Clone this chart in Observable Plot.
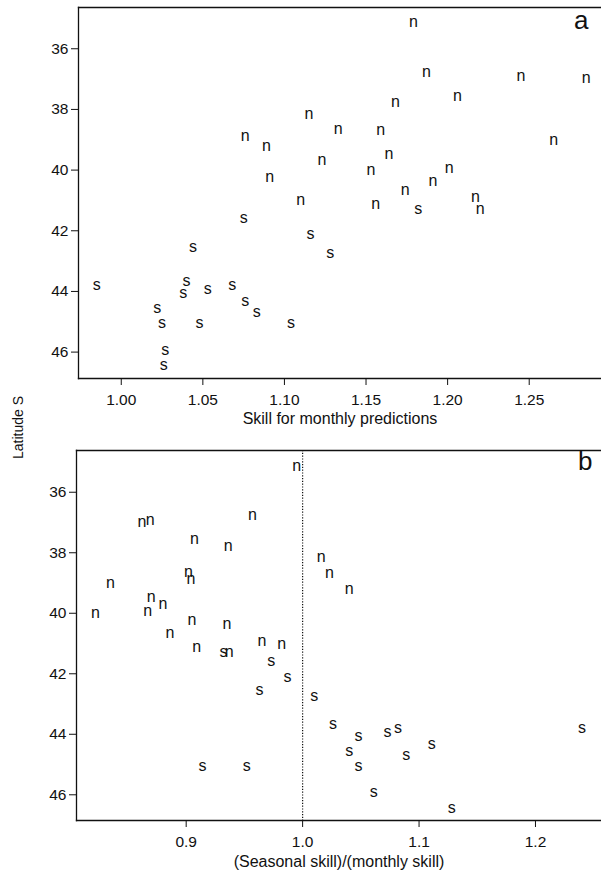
<!DOCTYPE html>
<html>
<head>
<meta charset="utf-8">
<script src="https://cdn.jsdelivr.net/npm/d3@7"></script>
<script src="https://cdn.jsdelivr.net/npm/@observablehq/plot@0.6"></script>
<style>
  body { margin: 0; background: #fff; }
  #chart { position: relative; width: 601px; height: 870px; }
  #chart svg { display: block; }
</style>
</head>
<body>
<div id="chart"></div>
<script>
// Stations: region (n = north, s = south), latitude (°S),
// skill of monthly predictions, and seasonal skill divided by monthly skill.
const region = [
  "n","n","n","n","n","n","n","n","n","n","n","n","n","n","n","n","n","n","n","n","n","n","n",
  "s","s","s","s","s","s","s","s","s","s","s","s","s","s","s","s","s","s"
];
const latitude = [
  35.15, 36.79, 36.93, 37.00, 37.58, 37.80, 38.18, 38.66, 38.70, 38.89, 39.04, 39.24,
  39.50, 39.71, 39.96, 40.03, 40.26, 40.40, 40.69, 40.93, 41.03, 41.15, 41.30,
  41.30, 41.60, 42.12, 42.58, 42.77, 43.68, 43.82, 43.82, 43.95, 44.08, 44.35,
  44.58, 44.71, 45.08, 45.08, 45.07, 45.95, 46.46
];
const monthlySkill = [
  1.179, 1.187, 1.245, 1.285, 1.206, 1.168, 1.115, 1.133, 1.159, 1.076, 1.265, 1.089,
  1.164, 1.123, 1.201, 1.153, 1.091, 1.191, 1.174, 1.217, 1.110, 1.156, 1.220,
  1.182, 1.075, 1.116, 1.044, 1.128, 1.040, 0.985, 1.068, 1.053, 1.038, 1.076,
  1.022, 1.083, 1.025, 1.048, 1.104, 1.027, 1.026
];
const skillRatio = [
  0.995, 0.957, 0.869, 0.862, 0.907, 0.936, 1.016, 0.902, 1.023, 0.904, 0.835, 1.040,
  0.870, 0.880, 0.867, 0.822, 0.905, 0.935, 0.886, 0.965, 0.982, 0.909, 0.937,
  0.932, 0.973, 0.987, 0.963, 1.010, 1.026, 1.240, 1.082, 1.073, 1.048, 1.111,
  1.040, 1.089, 1.048, 0.952, 0.914, 1.061, 1.128
];

// Axis ticks
const latTicks = [36, 38, 40, 42, 44, 46];
const skillTicks = [1.00, 1.05, 1.10, 1.15, 1.20, 1.25];
const ratioTicks = [0.9, 1.0, 1.1, 1.2];
const parity = [1]; // ratio at which seasonal and monthly skill are equal

const stations = region.map((r, i) => ({
  region: r, lat: latitude[i], skill: monthlySkill[i], ratio: skillRatio[i]
}));

const font = '"Liberation Sans", Arial, Helvetica, sans-serif';
const ink = "#111";

function panel(o) {
  return Plot.plot({
    width: 601,
    height: o.height,
    marginTop: o.marginTop,
    marginBottom: o.marginBottom,
    marginLeft: o.marginLeft,
    marginRight: 0,
    style: { fontFamily: font, fontSize: "15px", color: ink, background: "white" },
    x: { domain: o.xDomain },
    y: { domain: o.yDomain, reverse: true },
    marks: [
      Plot.frame({ anchor: "top", stroke: ink, strokeWidth: 1.3 }),
      Plot.frame({ anchor: "bottom", stroke: ink, strokeWidth: 1.3 }),
      Plot.frame({ anchor: "left", stroke: ink, strokeWidth: 1.3 }),
      ...(o.extra || []),
      Plot.axisX({ ticks: o.xTicks, tickFormat: o.xFormat, tickSize: 7, tickPadding: 8,
                   label: null, fontSize: 15.5, stroke: ink }),
      Plot.axisY({ ticks: latTicks, tickSize: 7, tickPadding: 3, label: null,
                   fontSize: 15.5, stroke: ink }),
      Plot.text(stations, { x: o.x, y: "lat", text: "region", fontSize: 16, fill: ink, dy: -1 }),
      Plot.text([o.xLabel], { text: d => d, frameAnchor: "bottom", lineAnchor: "bottom",
                              dy: o.labelDy, fontSize: 16, fill: ink }),
      Plot.text([o.tag], { text: d => d, frameAnchor: "top-right", textAnchor: "end",
                           lineAnchor: "bottom", dx: o.tagDx, dy: o.tagDy, fontSize: 26, fill: ink })
    ]
  });
}

const chart = document.getElementById("chart");

// a: latitude against skill of monthly predictions
chart.append(panel({
  x: "skill",
  height: 440, marginTop: 7, marginBottom: 62, marginLeft: 78,
  xDomain: [0.9738, 1.2943], yDomain: [34.64, 46.87],
  xTicks: skillTicks, xFormat: d3.format(".2f"),
  xLabel: "Skill for monthly predictions", labelDy: 45,
  tag: "a", tagDx: -13, tagDy: 21
}));

// b: latitude against the seasonal/monthly skill ratio
chart.append(panel({
  x: "ratio",
  height: 430, marginTop: 10, marginBottom: 50, marginLeft: 76,
  xDomain: [0.8058, 1.2567], yDomain: [34.62, 46.85],
  xTicks: ratioTicks, xFormat: d3.format(".1f"),
  xLabel: "(Seasonal skill)/(monthly skill)", labelDy: 46,
  tag: "b", tagDx: -9, tagDy: 19,
  extra: [Plot.ruleX(parity, { stroke: ink, strokeWidth: 1.2, strokeDasharray: "1.2,1.6" })]
}));

// Shared latitude label spanning both panels
const overlay = d3.create("svg")
  .attr("width", 601).attr("height", 870)
  .style("position", "absolute").style("left", "0px").style("top", "0px")
  .style("pointer-events", "none");
overlay.append("text")
  .attr("transform", "translate(22.5,427.5) rotate(-90)")
  .attr("text-anchor", "middle")
  .attr("font-family", font)
  .attr("font-size", 14)
  .attr("fill", ink)
  .text("Latitude S");
chart.append(overlay.node());
</script>
</body>
</html>
